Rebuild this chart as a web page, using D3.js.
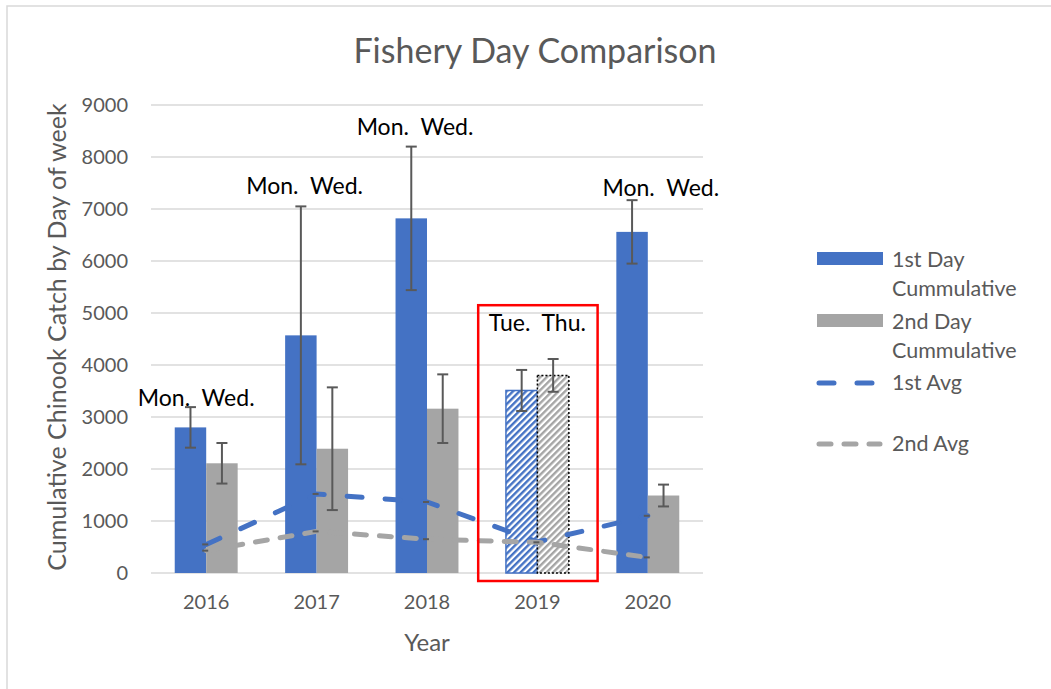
<!DOCTYPE html>
<html>
<head>
<meta charset="utf-8">
<script src="https://cdn.jsdelivr.net/npm/d3@7"></script>
<style>
    body { margin: 0; background: #fff; }
    svg { font-family: Lato, "Open Sans", sans-serif; }
</style>
</head>
<body>
<svg id="chart" width="1051" height="689"></svg>
<script>
// values
var years = ["2016", "2017", "2018", "2019", "2020"];
var firstDay = [2800, 4570, 6820, 3510, 6560];
var firstDayErr = [390, 2480, 1380, 395, 610];
var secondDay = [2110, 2390, 3160, 3800, 1490];
var secondDayErr = [390, 1180, 660, 315, 210];
var firstAvg = [550, 1520, 1365, 600, 1100];
var secondAvg = [430, 800, 650, 590, 300];
var dayLabels = ["Mon.  Wed.", "Mon.  Wed.", "Mon.  Wed.", "Tue.  Thu.", "Mon.  Wed."];
var dayLabelAt = [3210, 7290, 8420, 4650, 7250];
var yTicks = [0, 1000, 2000, 3000, 4000, 5000, 6000, 7000, 8000, 9000];
var highlightYear = "2019";
var legendItems = [
    {name: ["1st Day", "Cummulative"], kind: "bar", color: "#4472c4"},
    {name: ["2nd Day", "Cummulative"], kind: "bar", color: "#a5a5a5"},
    {name: ["1st Avg"], kind: "line", color: "#4472c4", dash: "15 23"},
    {name: ["2nd Avg"], kind: "line", color: "#a5a5a5", dash: "12 13"}
];

// where the text boxes sit relative to the group centre (px)
var labelShift = [-10, -12, -12, 0, 13];

var blue = "#4472c4", grey = "#a5a5a5", textCol = "#595959";

var svg = d3.select("#chart"),
    margin = {top: 105, left: 151},
    width = 552,
    height = 468,
    g = svg.append("g").attr("transform", "translate(" + margin.left + "," + margin.top + ")");

// chart frame
svg.append("rect")
    .attr("x", 7).attr("y", 6)
    .attr("width", 1200).attr("height", 900)
    .attr("fill", "none").attr("stroke", "#d9d9d9").attr("stroke-width", 1.5);

var defs = svg.append("defs");
function hatch(id, color) {
    var p = defs.append("pattern")
        .attr("id", id)
        .attr("patternUnits", "userSpaceOnUse")
        .attr("width", 4.6).attr("height", 4.6)
        .attr("patternTransform", "rotate(45)");
    p.append("rect").attr("width", 4.6).attr("height", 4.6).attr("fill", "#fff");
    p.append("rect").attr("width", 2.4).attr("height", 4.6).attr("fill", color);
}
hatch("hatchBlue", blue);
hatch("hatchGrey", grey);

var x = d3.scaleBand().domain(years).range([0, width]);
var bw = x.bandwidth() * 0.285;
var y = d3.scaleLinear().domain([0, 9000]).range([height, 0]);
var cx = function(d) { return x(d) + x.bandwidth() / 2; };

// gridlines
g.selectAll(".grid")
    .data(yTicks)
    .enter()
    .append("line")
        .attr("class", "grid")
        .attr("x1", 0).attr("x2", width)
        .attr("y1", function(d) { return y(d); })
        .attr("y2", function(d) { return y(d); })
        .attr("stroke", "#d9d9d9")
        .attr("stroke-width", 1.5);

// y axis labels
var yAxis = g.append("g").call(d3.axisLeft(y).tickValues(yTicks).tickSize(0).tickPadding(23).tickFormat(d3.format("d")));
yAxis.select(".domain").remove();
yAxis.selectAll("text").attr("fill", textCol).attr("font-size", 20).attr("font-family", "Lato");

// x axis labels
var xAxis = g.append("g").attr("transform", "translate(0," + height + ")")
    .call(d3.axisBottom(x).tickSize(0).tickPadding(22));
xAxis.select(".domain").remove();
xAxis.selectAll("text").attr("fill", textCol).attr("font-size", 20).attr("font-family", "Lato");

var rows = years.map(function(yr, i) {
    return {year: yr, first: firstDay[i], firstErr: firstDayErr[i],
            second: secondDay[i], secondErr: secondDayErr[i],
            hl: yr === highlightYear};
});

// bars
var bar = g.selectAll(".bar")
    .data(rows)
    .enter()
    .append("g")
        .attr("class", "bar")
        .attr("transform", function(d) { return "translate(" + cx(d.year) + ",0)"; });

bar.append("rect")
    .attr("x", -bw)
    .attr("y", function(d) { return y(d.first); })
    .attr("width", bw)
    .attr("height", function(d) { return height - y(d.first); })
    .attr("fill", function(d) { return d.hl ? "url(#hatchBlue)" : blue; })
    .attr("stroke", function(d) { return d.hl ? blue : "none"; })
    .attr("stroke-width", 1.5);

bar.append("rect")
    .attr("x", 0)
    .attr("y", function(d) { return y(d.second); })
    .attr("width", bw)
    .attr("height", function(d) { return height - y(d.second); })
    .attr("fill", function(d) { return d.hl ? "url(#hatchGrey)" : grey; })
    .attr("stroke", function(d) { return d.hl ? "#000" : "none"; })
    .attr("stroke-dasharray", "2,2")
    .attr("stroke-width", 1.5);

// error bars
function errBar(sel, off, val, err) {
    var e = sel.append("g").attr("stroke", textCol).attr("stroke-width", 2);
    e.append("line")
        .attr("x1", off).attr("x2", off)
        .attr("y1", function(d) { return y(d[val] + d[err]); })
        .attr("y2", function(d) { return y(d[val] - d[err]); });
    e.append("line")
        .attr("x1", off - 5.5).attr("x2", off + 5.5)
        .attr("y1", function(d) { return y(d[val] + d[err]); })
        .attr("y2", function(d) { return y(d[val] + d[err]); });
    e.append("line")
        .attr("x1", off - 5.5).attr("x2", off + 5.5)
        .attr("y1", function(d) { return y(d[val] - d[err]); })
        .attr("y2", function(d) { return y(d[val] - d[err]); });
}
errBar(bar, -bw / 2, "first", "firstErr");
errBar(bar, bw / 2, "second", "secondErr");

// average lines
function avgLine(vals, color, dash) {
    var pts = years.map(function(yr, i) { return [cx(yr), y(vals[i])]; });
    g.append("path")
        .attr("d", d3.line()(pts))
        .attr("fill", "none")
        .attr("stroke", color)
        .attr("stroke-width", 5)
        .attr("stroke-linecap", "round")
        .attr("stroke-dasharray", dash);
    g.selectAll(null)
        .data(pts)
        .enter()
        .append("line")
            .attr("x1", function(d) { return d[0] - 4; })
            .attr("x2", function(d) { return d[0] + 2; })
            .attr("y1", function(d) { return d[1]; })
            .attr("y2", function(d) { return d[1]; })
            .attr("stroke", textCol)
            .attr("stroke-width", 2);
}
avgLine(firstAvg, blue, "15 23");
avgLine(secondAvg, grey, "12 13");

// highlight box
g.append("rect")
    .attr("x", x(highlightYear) - 4)
    .attr("y", y(5150))
    .attr("width", x.bandwidth() + 9)
    .attr("height", height - y(5150) + 8)
    .attr("fill", "none")
    .attr("stroke", "#ff0000")
    .attr("stroke-width", 2.5);

// day labels
g.selectAll(".daylab")
    .data(years)
    .enter()
    .append("text")
        .attr("class", "daylab")
        .attr("x", function(d, i) { return cx(d) + labelShift[i]; })
        .attr("y", function(d, i) { return y(dayLabelAt[i]); })
        .attr("text-anchor", "middle")
        .attr("font-size", 23)
        .attr("fill", "#000")
        .style("white-space", "pre")
        .text(function(d, i) { return dayLabels[i]; });

// titles
svg.append("text")
    .attr("x", 535).attr("y", 63)
    .attr("text-anchor", "middle")
    .attr("font-size", 34)
    .attr("fill", textCol)
    .text("Fishery Day Comparison");

svg.append("text")
    .attr("x", margin.left + width / 2).attr("y", 651)
    .attr("text-anchor", "middle")
    .attr("font-size", 24)
    .attr("fill", textCol)
    .text("Year");

svg.append("text")
    .attr("transform", "translate(66," + (margin.top + height / 2 - 2) + ") rotate(-90)")
    .attr("text-anchor", "middle")
    .attr("font-size", 25)
    .attr("fill", textCol)
    .text("Cumulative Chinook Catch by Day of week");

// legend
var legY = [252, 314, 383, 444];
var leg = svg.append("g").attr("class", "legend");
legendItems.forEach(function(item, i) {
    var top = legY[i];
    if (item.kind === "bar") {
        leg.append("rect")
            .attr("x", 817).attr("y", top)
            .attr("width", 66).attr("height", 13)
            .attr("fill", item.color);
        item.name.forEach(function(t, k) {
            leg.append("text")
                .attr("x", 892).attr("y", top + 15 + k * 29)
                .attr("font-size", 21.5)
                .attr("fill", textCol)
                .text(t);
        });
    } else {
        leg.append("line")
            .attr("x1", 819).attr("x2", 880)
            .attr("y1", top).attr("y2", top)
            .attr("stroke", item.color)
            .attr("stroke-width", 5)
            .attr("stroke-linecap", "round")
            .attr("stroke-dasharray", item.dash);
        leg.append("text")
            .attr("x", 892).attr("y", top + 7)
            .attr("font-size", 21.5)
            .attr("fill", textCol)
            .text(item.name[0]);
    }
});
</script>
</body>
</html>
